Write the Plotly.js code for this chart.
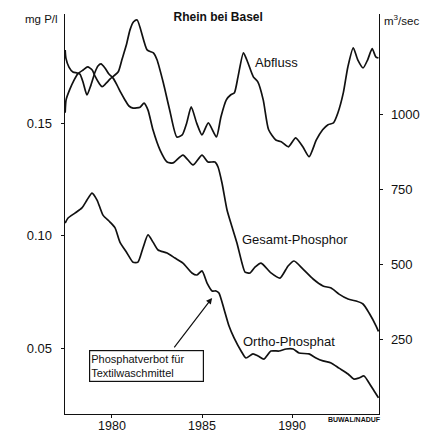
<!DOCTYPE html>
<html>
<head>
<meta charset="utf-8">
<script src="https://cdn.plot.ly/plotly-3.0.1.min.js"></script>
<style>html,body{margin:0;padding:0;background:#fff;}#chart{width:432px;height:432px;}</style>
</head>
<body>
<div id="chart"></div>
<script>
// Abfluss (m3/sec, right axis)
const abflussYears = [1977.4,1977.45,1977.65,1977.9,1978.1,1978.4,1978.65,1978.9,1979.05,1979.3,1979.45,1979.65,1979.9,1980.1,1980.35,1980.55,1980.8,1981.0,1981.2,1981.4,1981.95,1982.3,1982.5,1982.85,1983.2,1983.6,1983.9,1984.15,1984.4,1984.7,1985.0,1985.35,1985.8,1986.05,1986.35,1986.6,1986.8,1987.0,1987.3,1987.55,1987.85,1988.1,1988.4,1988.7,1989.1,1989.4,1989.8,1990.2,1990.6,1990.95,1991.35,1991.7,1992.0,1992.3,1992.55,1992.85,1993.1,1993.4,1993.65,1993.95,1994.2,1994.45,1994.65,1994.8];
const abflussValues = [1007,1050,1084,1117,1137,1150,1160,1150,1130,1104,1094,1104,1120,1130,1144,1184,1234,1284,1311,1317,1217,1207,1184,1107,1017,926,933,973,1027,973,933,973,926,993,1050,1067,1074,1127,1207,1174,1127,1110,1050,950,916,910,893,923,893,860,916,950,967,973,1007,1074,1160,1224,1184,1157,1184,1221,1194,1190];

// Gesamt-Phosphor (mg P/l, left axis)
const gesamtYears = [1977.4,1977.44,1977.61,1977.83,1978.06,1978.22,1978.39,1978.61,1978.83,1979.06,1979.22,1979.39,1979.61,1979.83,1980.06,1980.28,1980.5,1980.72,1980.94,1981.17,1981.56,1981.78,1982.0,1982.28,1982.67,1983.06,1983.39,1983.94,1984.5,1985.0,1985.33,1985.72,1985.89,1986.11,1986.39,1986.67,1986.94,1987.22,1987.39,1987.67,1987.94,1988.28,1988.83,1989.33,1989.78,1990.11,1990.61,1991.17,1991.72,1992.17,1992.61,1993.11,1993.56,1993.94,1994.28,1994.67,1994.8];
const gesamtValues = [0.1826,0.1790,0.1750,0.1728,0.1724,0.1719,0.1684,0.1626,0.1670,0.1728,0.1755,0.1764,0.1746,0.1719,0.1701,0.1670,0.1635,0.1604,0.1577,0.1568,0.1572,0.1590,0.1559,0.1470,0.1381,0.1328,0.1324,0.1359,0.1315,0.1359,0.1328,0.1328,0.1306,0.1235,0.1115,0.1039,0.0968,0.0879,0.0839,0.0835,0.0861,0.0879,0.0835,0.0812,0.0866,0.0888,0.0852,0.0808,0.0777,0.0768,0.0741,0.0719,0.0710,0.0697,0.0657,0.0599,0.0575];

// Ortho-Phosphat (mg P/l, left axis)
const orthoYears = [1977.4,1977.56,1977.94,1978.33,1978.61,1978.89,1979.17,1979.5,1979.89,1980.17,1980.44,1980.83,1981.17,1981.44,1981.72,1982.0,1982.28,1982.56,1983.06,1983.5,1983.94,1984.44,1984.72,1985.0,1985.28,1985.56,1985.78,1985.94,1986.22,1986.5,1986.78,1987.17,1987.44,1987.83,1988.11,1988.44,1988.83,1989.28,1989.67,1990.06,1990.39,1990.94,1991.33,1991.72,1992.17,1992.61,1993.11,1993.44,1993.72,1994.0,1994.28,1994.56,1994.8];
const orthoValues = [0.1057,0.1079,0.1101,0.1124,0.1159,0.1190,0.1159,0.1092,0.1061,0.1035,0.0972,0.0924,0.0883,0.0883,0.0946,0.1004,0.0972,0.0937,0.0924,0.0901,0.0879,0.0835,0.0826,0.0844,0.0790,0.0755,0.0755,0.0746,0.0675,0.0599,0.0546,0.0488,0.0457,0.0475,0.0466,0.0452,0.0488,0.0488,0.0497,0.0497,0.0479,0.0475,0.0457,0.0444,0.0435,0.0412,0.0386,0.0363,0.0368,0.0377,0.0346,0.0310,0.0280];

// Axis ticks
const xTicks = [1980, 1985, 1990];
const xTickText = ['1980', '1985', '1990'];
const leftTicks = [0.05, 0.10, 0.15];
const leftTickText = ['0.05', '0.10', '0.15'];
const rightTicks = [250, 500, 750, 1000];
const rightTickText = ['250', '500', '750', '1000'];

const lineStyle = {color: '#111', width: 1.7, shape: 'spline', smoothing: 0.6};
const FONT = 'Liberation Sans, Arial, sans-serif';

const traces = [
  {x: gesamtYears, y: gesamtValues, type: 'scatter', mode: 'lines', line: lineStyle, yaxis: 'y', hoverinfo: 'skip'},
  {x: orthoYears, y: orthoValues, type: 'scatter', mode: 'lines', line: lineStyle, yaxis: 'y', hoverinfo: 'skip'},
  {x: abflussYears, y: abflussValues, type: 'scatter', mode: 'lines', line: lineStyle, yaxis: 'y2', hoverinfo: 'skip'}
];

const layout = {
  width: 432, height: 432,
  margin: {l: 65, r: 53, t: 14, b: 18, pad: 0},
  paper_bgcolor: '#fff', plot_bgcolor: '#fff',
  showlegend: false,
  font: {family: FONT, color: '#111', size: 13},
  title: {text: '<b>Rhein bei Basel</b>', font: {size: 12, family: FONT, color: '#111'},
          x: 0.505, xref: 'container', xanchor: 'center', y: 0.962, yref: 'container', yanchor: 'middle'},
  xaxis: {range: [1977.39, 1994.83], tickvals: xTicks, ticktext: xTickText, ticks: 'outside', ticklen: 3,
          tickcolor: '#111', showline: true, linecolor: '#111', linewidth: 1.3, showgrid: false, zeroline: false,
          tickfont: {size: 12.5}, ticklabelstandoff: -3, fixedrange: true},
  yaxis: {range: [0.0208, 0.1986], tickvals: leftTicks, ticktext: leftTickText, ticks: 'outside', ticklen: 3,
          tickcolor: '#111', showline: true, linecolor: '#111', linewidth: 1.3, showgrid: false, zeroline: false,
          tickfont: {size: 13}, ticklabelstandoff: 6},
  yaxis2: {range: [0, 1337], overlaying: 'y', side: 'right', tickvals: rightTicks, ticktext: rightTickText,
           ticks: 'outside', ticklen: 3, tickcolor: '#111', showline: true, linecolor: '#111', linewidth: 1.3,
           showgrid: false, zeroline: false, tickfont: {size: 13}, ticklabelstandoff: 5},
  annotations: [
    {text: 'mg P/l', xref: 'paper', yref: 'paper', x: -0.016, y: 0.9875, xanchor: 'right', yanchor: 'middle', showarrow: false, font: {size: 11.5}},
    {text: 'm<sup>3</sup>/sec', xref: 'paper', yref: 'paper', x: 1.01, y: 0.985, xanchor: 'left', yanchor: 'middle', showarrow: false, font: {size: 11.5}},
    {text: 'Abfluss', xref: 'paper', yref: 'paper', x: 0.672, y: 0.88, xanchor: 'center', yanchor: 'middle', showarrow: false, font: {size: 13}},
    {text: 'Gesamt-Phosphor', xref: 'paper', yref: 'paper', x: 0.731, y: 0.435, xanchor: 'center', yanchor: 'middle', showarrow: false, font: {size: 13}},
    {text: 'Ortho-Phosphat', xref: 'paper', yref: 'paper', x: 0.712, y: 0.1825, xanchor: 'center', yanchor: 'middle', showarrow: false, font: {size: 13}},
    {text: 'Phosphatverbot für<br>Textilwaschmittel', xref: 'paper', yref: 'paper', x: 0.2596, y: 0.12, xanchor: 'center', yanchor: 'middle',
     showarrow: false, align: 'left', width: 111, height: 28, borderpad: 1, bordercolor: '#111', borderwidth: 1.2, bgcolor: '#fff', font: {size: 11}},
    {text: '', xref: 'x', yref: 'y', x: 1985.56, y: 0.0724, ax: -39, ay: 51, showarrow: true, arrowhead: 2, arrowsize: 1, arrowwidth: 1.2, arrowcolor: '#111'},
    {text: '<b>BUWAL/NADUF</b>', xref: 'paper', yref: 'paper', x: 1.013, y: -0.015, xanchor: 'right', yanchor: 'middle', showarrow: false, font: {size: 7}}
  ]
};

Plotly.newPlot('chart', traces, layout, {staticPlot: true, displayModeBar: false});
</script>
</body>
</html>
